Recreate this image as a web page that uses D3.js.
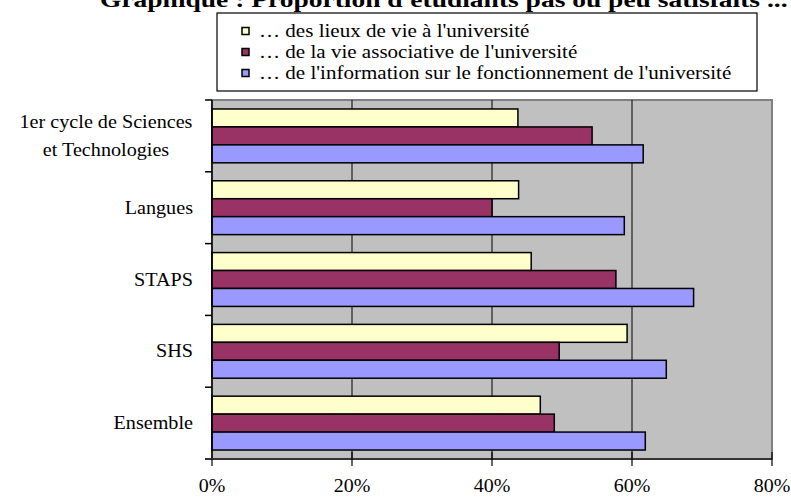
<!DOCTYPE html>
<html>
<head>
<meta charset="utf-8">
<script src="https://cdn.jsdelivr.net/npm/d3@7"></script>
<style>
  html, body { margin: 0; padding: 0; background: #ffffff; }
  svg { display: block; }
  text { font-family: "Liberation Serif", "Times New Roman", serif; fill: #000; }
</style>
</head>
<body>
<svg id="chart" width="791" height="497"></svg>
<script>
// ---- data ----
const title = "Graphique : Proportion d'étudiants pas ou peu satisfaits ...";
const categories = ["1er cycle de Sciences et Technologies", "Langues", "STAPS", "SHS", "Ensemble"];
const categoryLines = [["1er cycle de Sciences", "et Technologies"], ["Langues"], ["STAPS"], ["SHS"], ["Ensemble"]];
const seriesNames = [
  "… des lieux de vie à l'université",
  "… de la vie associative de l'université",
  "… de l'information sur le fonctionnement de l'université"
];
const lieuxDeVie   = [0.437, 0.438, 0.456, 0.593, 0.469];
const vieAssoc     = [0.543, 0.400, 0.577, 0.496, 0.489];
const information  = [0.616, 0.589, 0.688, 0.649, 0.619];
const seriesValues = [lieuxDeVie, vieAssoc, information];
const seriesColors = ["#FFFFCC", "#993366", "#9999FF"];
const tickValues = [0, 0.2, 0.4, 0.6, 0.8];
const tickLabels = ["0%", "20%", "40%", "60%", "80%"];

// ---- layout ----
const svg = d3.select("#chart");
const plot = { left: 212, right: 772, top: 100, bottom: 459 };

const x = d3.scaleLinear().domain([0, 0.8]).range([plot.left, plot.right]);
const y0 = d3.scaleBand().domain(categories).range([plot.top, plot.bottom])
  .paddingInner(0.25).paddingOuter(0.125);
const y1 = d3.scaleBand().domain(d3.range(seriesNames.length)).range([0, y0.bandwidth()]);

function stretchedText(g, tx, ty, sx, str, size, anchor, weight) {
  return g.append("text")
    .attr("transform", `translate(${tx},${ty}) scale(${sx},1)`)
    .attr("text-anchor", anchor || "start")
    .style("font-size", size + "px")
    .style("font-weight", weight || "normal")
    .text(str);
}

// title (clipped at top as in reference)
stretchedText(svg, 100, 7, 1.25, title, 22, "start", "bold");

// plot background
svg.append("rect")
  .attr("x", plot.left).attr("y", plot.top)
  .attr("width", plot.right - plot.left).attr("height", plot.bottom - plot.top)
  .attr("fill", "#C0C0C0").attr("stroke", "#808080").attr("stroke-width", 2);

// gridlines
svg.append("g").selectAll("line")
  .data(tickValues.filter(v => v > 0 && v < 0.8))
  .join("line")
  .attr("x1", d => x(d)).attr("x2", d => x(d))
  .attr("y1", plot.top).attr("y2", plot.bottom)
  .attr("stroke", "#000").attr("stroke-width", 1);

// bars
const groups = svg.append("g").selectAll("g")
  .data(categories)
  .join("g")
  .attr("transform", d => `translate(0,${y0(d)})`);

groups.selectAll("rect")
  .data((d, i) => seriesValues.map((s, k) => ({ k, v: s[i] })))
  .join("rect")
  .attr("x", x(0))
  .attr("y", d => y1(d.k))
  .attr("width", d => x(d.v) - x(0))
  .attr("height", y1.bandwidth())
  .attr("fill", d => seriesColors[d.k])
  .attr("stroke", "#000")
  .attr("stroke-width", 1.5);

// left (category) axis
svg.append("line")
  .attr("x1", plot.left).attr("x2", plot.left)
  .attr("y1", plot.top).attr("y2", plot.bottom)
  .attr("stroke", "#000").attr("stroke-width", 1.5);
const bounds = d3.range(categories.length + 1).map(i => plot.top + i * (plot.bottom - plot.top) / categories.length);
svg.append("g").selectAll("line")
  .data(bounds)
  .join("line")
  .attr("x1", plot.left - 7).attr("x2", plot.left)
  .attr("y1", d => d).attr("y2", d => d)
  .attr("stroke", "#000").attr("stroke-width", 1.5);

// category labels
categories.forEach((c, i) => {
  const lines = categoryLines[i];
  const cy = y0(c) + y0.bandwidth() / 2;
  if (lines.length === 1) {
    stretchedText(svg, 193, cy + 6, 1.12, lines[0], 18, "end");
  } else {
    stretchedText(svg, 106, cy - 8, 1.12, lines[0], 18, "middle");
    stretchedText(svg, 106, cy + 20, 1.12, lines[1], 18, "middle");
  }
});

// bottom (value) axis
svg.append("line")
  .attr("x1", plot.left - 7).attr("x2", plot.right)
  .attr("y1", plot.bottom).attr("y2", plot.bottom)
  .attr("stroke", "#333").attr("stroke-width", 2);
svg.append("g").selectAll("line")
  .data(tickValues)
  .join("line")
  .attr("x1", d => x(d)).attr("x2", d => x(d))
  .attr("y1", d => d === 0 ? plot.bottom : plot.bottom - 7).attr("y2", plot.bottom + 7)
  .attr("stroke", "#000").attr("stroke-width", 1.2);
tickValues.forEach((v, i) => {
  stretchedText(svg, x(v), 492, 1.05, tickLabels[i], 19, "middle");
});

// legend
const lg = svg.append("g");
lg.append("rect")
  .attr("x", 217).attr("y", 13).attr("width", 540).attr("height", 78)
  .attr("fill", "#fff").attr("stroke", "#000").attr("stroke-width", 1.2);
const legendY = d3.scalePoint().domain(d3.range(seriesNames.length)).range([31, 73]);
seriesNames.forEach((name, k) => {
  const cy = legendY(k);
  lg.append("rect")
    .attr("x", 242).attr("y", cy - 3.5).attr("width", 7).attr("height", 7)
    .attr("fill", seriesColors[k]).attr("stroke", "#000").attr("stroke-width", 1.5);
  stretchedText(lg, 259, cy + 6, 1.17, name, 18, "start");
});
</script>
</body>
</html>
